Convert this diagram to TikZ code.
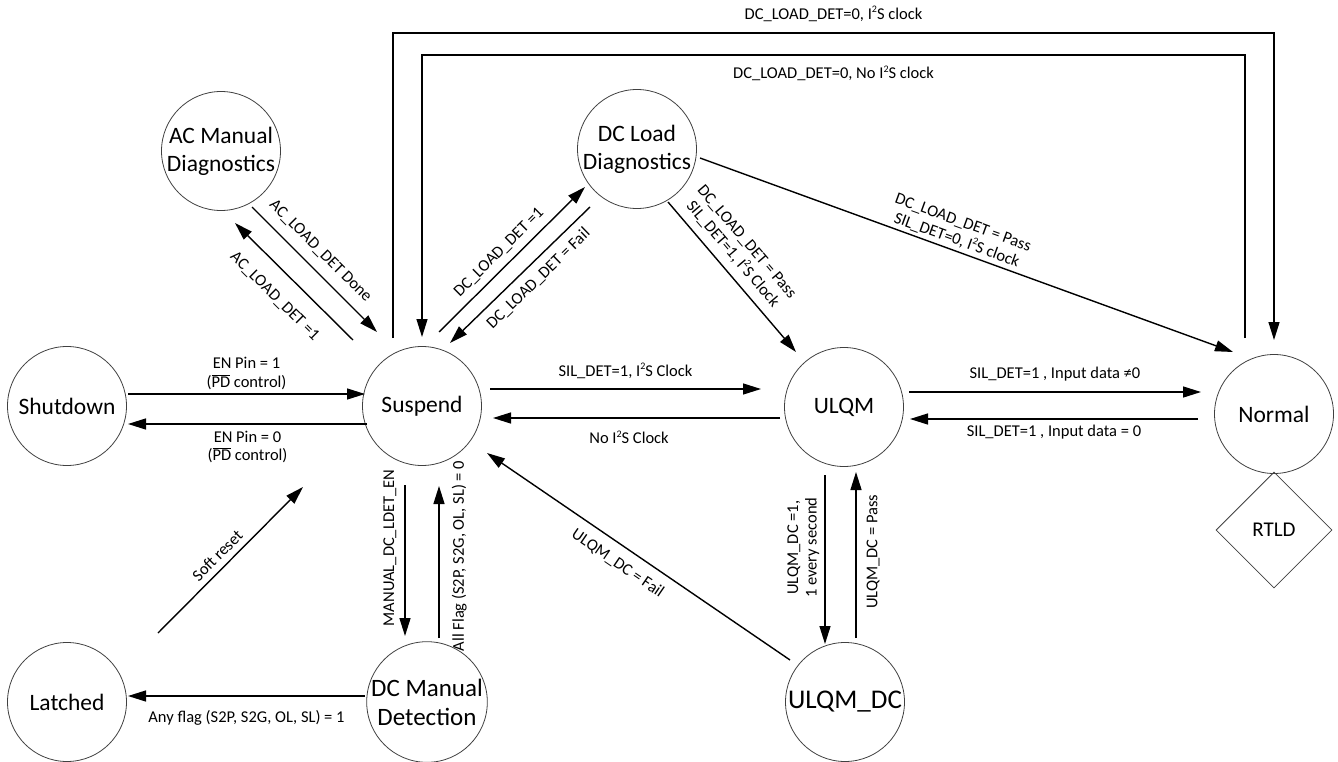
\documentclass[tikz,border=0pt]{standalone}
\usepackage{fontspec}
\setmainfont{Carlito}
\usetikzlibrary{arrows.meta,calc,shapes.geometric}
\newcommand\sqtwo{\raisebox{0.4em}{\fontsize{10}{10}\selectfont 2}}
\tikzset{
  state/.style={circle, draw=black!75, line width=0.8pt, minimum size=119pt, inner sep=0pt, align=center, font=\fontsize{23.5}{28}\selectfont},
  rtldbox/.style={diamond, draw=black!75, line width=0.8pt, minimum width=116pt, minimum height=116pt, inner sep=0pt, font=\fontsize{21}{25}\selectfont},
  arr/.style={line width=1.4pt, -{Triangle[length=18pt,width=11pt]}},
  lbl/.style={font=\fontsize{16.5}{18.5}\selectfont, inner sep=0pt, align=center},
}
\begin{document}
\begin{tikzpicture}[x=1pt,y=-1pt]
\useasboundingbox (0,0) rectangle (1338,762);
% states
\node[state] (ac) at (221,151) {AC Manual\\Diagnostics};
\node[state] (dcl) at (637,149) {DC Load\\Diagnostics};
\node[state] (shut) at (67,406) {Shutdown};
\node[state] (sus) at (422,406) {Suspend};
\node[state] (ulqm) at (844,407) {ULQM};
\node[state] (norm) at (1274,414) {Normal};
\node[rtldbox] (rtld) at (1274,530) {RTLD};
\node[state] (lat) at (67,702) {Latched};
\node[state, font=\fontsize{25}{29}\selectfont] (dcm) at (427,702) {DC Manual\\Detection};
\node[state, font=\fontsize{27}{31}\selectfont] (uldc) at (845,702) {ULQM\_DC};
\coordinate (srA) at ($(lat)+(91,-69)$);
\coordinate (srB) at ($(sus)+(-119,81)$);
% AC manual diagnostics
\draw[arr] ($(ac)+(31,56)$) -- node[lbl, sloped, above=10pt, pos=0.45] {AC\_LOAD\_DET Done} ($(sus)+(-45,-74)$);
\draw[arr] ($(sus)+(-69,-66)$) -- node[lbl, sloped, below=17pt, pos=0.52] {AC\_LOAD\_DET =1} ($(ac)+(14,72)$);
% DC load diagnostics
\draw[arr] ($(sus)+(17,-74)$) -- node[lbl, sloped, above=7pt, pos=0.48] {DC\_LOAD\_DET =1} ($(dcl)+(-52,38)$);
\draw[arr] ($(dcl)+(-47,58)$) -- node[lbl, sloped, below=8pt, pos=0.445] {DC\_LOAD\_DET = Fail} ($(sus)+(28,-63)$);
\draw[arr] ($(dcl)+(31,53)$) -- node[lbl, sloped, above=8pt, pos=0.414] {DC\_LOAD\_DET = Pass\\SIL\_DET=1, I\sqtwo S Clock} ($(ulqm)+(-48,-55)$);
\draw[arr] ($(dcl)+(63,9)$) -- node[lbl, sloped, above=3pt, pos=0.475] {DC\_LOAD\_DET = Pass\\SIL\_DET=0, I\sqtwo S clock} ($(norm)+(-41,-62)$);
% top loops
\draw[arr] ($(sus)+(-29,-68)$) -- ($(sus)+(-29,-373)$) -- node[lbl, above=11pt] {DC\_LOAD\_DET=0, I\sqtwo S clock} ($(norm)+(0,-381)$) -- ($(norm)+(0,-74)$);
\draw[arr] ($(norm)+(-29,-76)$) -- ($(norm)+(-29,-359)$) -- node[lbl, below=10pt] {DC\_LOAD\_DET=0, No I\sqtwo S clock} ($(sus)+(0,-351)$) -- ($(sus)+(0,-69)$);
% shutdown
\draw[arr] ($(shut)+(61,-12)$) -- node[lbl, above=4pt] {EN Pin = 1\\(\(\overline{\mbox{PD}}\) control)} ($(sus)+(-57,-12)$);
\draw[arr] ($(sus)+(-55,18)$) -- node[lbl, below=6pt] {EN Pin = 0\\(\(\overline{\mbox{PD}}\) control)} ($(shut)+(61,18)$);
% suspend - ULQM
\draw[arr] ($(sus)+(68,-17)$) -- node[lbl, above=10pt] {SIL\_DET=1, I\sqtwo S Clock} ($(ulqm)+(-83,-18)$);
\draw[arr] ($(ulqm)+(-64,11)$) -- node[lbl, below=12pt, pos=0.526] {No I\sqtwo S Clock} ($(sus)+(71,12)$);
% ULQM - Normal
\draw[arr] ($(ulqm)+(65,-15)$) -- node[lbl, above=10pt] {SIL\_DET=1 , Input data ≠0} ($(norm)+(-73,-22)$);
\draw[arr] ($(norm)+(-76,5)$) -- node[lbl, below=5pt] {SIL\_DET=1 , Input data = 0} ($(ulqm)+(66,12)$);
% suspend - DC manual
\draw[arr] ($(sus)+(-17,79)$) -- node[lbl, pos=0.417, xshift=-8pt, rotate=90, anchor=south] {MANUAL\_DC\_LDET\_EN} ($(dcm)+(-22,-66)$);
\draw[arr] ($(dcm)+(12,-64)$) -- node[lbl, pos=0.54, xshift=12pt, rotate=90, anchor=north] {All Flag (S2P, S2G, OL, SL) = 0} ($(sus)+(17,80)$);
% ULQM - ULQM_DC
\draw[arr] ($(ulqm)+(-19,68)$) -- node[lbl, pos=0.43, xshift=-5pt, rotate=90, anchor=south] {ULQM\_DC =1,\\1 every second} ($(uldc)+(-20,-58)$);
\draw[arr] ($(uldc)+(11,-64)$) -- node[lbl, pos=0.52, xshift=10pt, rotate=90, anchor=north] {ULQM\_DC = Pass} ($(ulqm)+(12,65)$);
\draw[arr] ($(uldc)+(-55,-42)$) -- node[lbl, sloped, below=10pt, pos=0.536] {ULQM\_DC = Fail} ($(sus)+(65,47)$);
% latched
\draw[arr] ($(dcm)+(-62,-6)$) -- node[lbl, below=14pt] {Any flag (S2P, S2G, OL, SL) = 1} ($(lat)+(61,-6)$);
\draw[arr] (srA) -- node[lbl, sloped, above=6pt, pos=0.47] {Soft reset} (srB);
\end{tikzpicture}
\end{document}
